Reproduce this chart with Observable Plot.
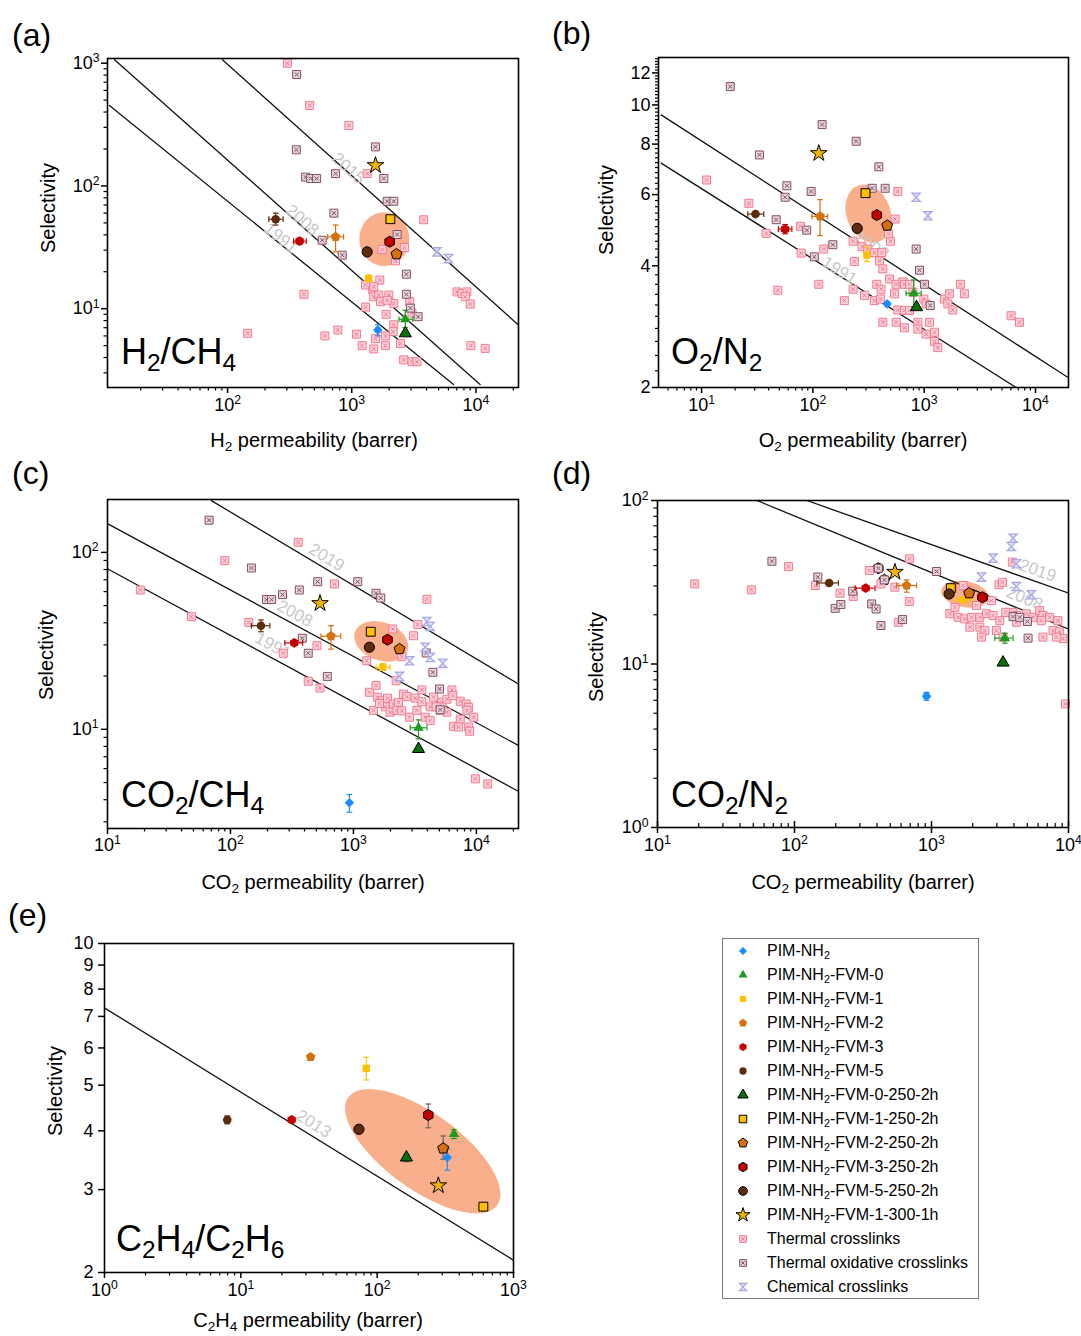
<!DOCTYPE html>
<html><head><meta charset="utf-8">
<script src="https://cdn.jsdelivr.net/npm/d3@7"></script>
<script src="https://cdn.jsdelivr.net/npm/@observablehq/plot@0.6"></script>
<style>
body{margin:0;background:#fff;}
#root{position:relative;width:1081px;height:1336px;overflow:hidden;font-family:"Liberation Sans",Arial,Helvetica,sans-serif;color:#000;background:#fff;}
.abs{position:absolute;white-space:nowrap;line-height:1;}
sub{font-size:0.68em;vertical-align:baseline;position:relative;top:0.3em;line-height:0;}
</style></head><body><div id="root"></div><script>
// ---------------- DATA ----------------
const membranes = ["PIM-NH2","PIM-NH2-FVM-0","PIM-NH2-FVM-1","PIM-NH2-FVM-2","PIM-NH2-FVM-3","PIM-NH2-FVM-5",
  "PIM-NH2-FVM-0-250-2h","PIM-NH2-FVM-1-250-2h","PIM-NH2-FVM-2-250-2h","PIM-NH2-FVM-3-250-2h","PIM-NH2-FVM-5-250-2h","PIM-NH2-FVM-1-300-1h"];
const literature = ["Thermal crosslinks","Thermal oxidative crosslinks","Chemical crosslinks"];

// (a) H2/CH4
const h2ch4P = [1620, 2700, 1370, 741, 380, 244, 2700, 2046, 2290, 2020, 1330, 1552];
const h2ch4S = [6.7, 8.2, 17.6, 38.5, 35.5, 53.6, 6.3, 53.6, 27.8, 35.1, 29.0, 147];
const h2ch4SErr = [[6.0,7.4],[7.0,9.7],[16.6,18.8],[29,48],[33.5,37.5],[48,60],null,null,null,null,null,null];
const h2ch4PErr = [[1560,1690],[2400,3100],[1300,1440],[640,860],[340,430],[215,280],null,null,null,null,null,null];
const h2ch4Thermal = [[303,1000],[458,453],[948,311],[1330,126],[3790,53],[412,13.1],[145,6.3],[608,6.0],[773,6.7],[1092,6.2],[1213,5.0],[1504,4.7],[1866,5.0],[1682,17.1],[1290,15.6],[1477,14.2],[1504,12.5],[1651,12.9],[1703,11.4],[1987,12.9],[2180,11.0],[1928,11.7],[1290,10.3],[1892,9.0],[2180,7.4],[2150,6.5],[1866,6.0],[2466,5.2],[2620,3.83],[3055,3.7],[3350,3.7],[2654,31.5],[2249,24.5],[1755,30.3],[7030,13.7],[7710,13.3],[8450,13.7],[8200,12.5],[9000,10.9],[9100,5.0],[11860,4.75],[2930,11.4],[3055,9.2],[1552,5.7],[1504,15.1]];
const h2ch4Oxid = [[360,809],[358,197],[425,118],[467,115],[521,115],[741,126],[1552,208],[1811,115],[1928,75],[2180,75],[718,60],[2318,40.2],[578,36.1],[838,27.3],[2754,19.1],[2754,13.1],[2966,10.1],[3420,8.6]];
const h2ch4Chem = [[4850,29],[6020,25.6]];
const h2ch4BoundYears = ["1991","2008","2015"];
const h2ch4BoundP = [[11.2,6600],[12.3,10800],[91,22000]];
const h2ch4BoundS = [[453,2.41],[1066,2.41],[1066,7.37]];
const h2ch4BoundLabel = [[268,37.6],[400,52.6],[942,139]];
const h2ch4Blob = [1845, 36.5];
const h2ch4XTicks = [100,1000,10000];
const h2ch4YTicks = [10,100,1000];

// (b) O2/N2
const o2n2P = [465, 807, 305, 116, 56.3, 30.5, 853, 297, 465, 375, 250, 113];
const o2n2S = [3.22, 3.42, 4.25, 5.3, 4.93, 5.37, 3.16, 6.05, 5.03, 5.34, 4.95, 7.59];
const o2n2SErr = [null,[3.17,3.69],[4.1,4.45],[4.75,5.83],[4.8,5.06],null,null,null,null,null,null,null];
const o2n2PErr = [[445,485],[689,940],[290,325],[98,136],[49,64.7],[26,36.2],null,null,null,null,null,null];
const o2n2Thermal = [[11.1,6.52],[26.6,5.71],[38,4.81],[77.4,5.01],[78.5,4.30],[125,4.40],[113,3.60],[192,3.28],[236,4.10],[230,4.6],[277,4.46],[311,4.40],[357,4.31],[416,4.31],[396,4.11],[425,3.93],[498,4.6],[478,4.8],[548,5.22],[579,6.11],[488,3.71],[560,3.60],[643,3.65],[665,3.60],[738,3.60],[375,3.60],[410,3.50],[541,3.41],[291,3.38],[357,3.28],[405,3.31],[230,3.50],[579,3.11],[665,3.10],[738,3.10],[425,2.90],[560,2.90],[665,2.81],[877,2.90],[1117,2.90],[877,2.79],[1042,2.71],[1239,2.74],[1239,2.60],[1326,2.51],[1522,3.31],[1631,3.22],[1808,3.11],[1688,3.41],[2118,3.60],[2300,3.41],[993,3.31],[1042,3.22],[791,3.44],[48.4,3.48],[6040,3.01],[7180,2.90]];
const o2n2Oxid = [[18.1,11.1],[121,8.94],[245,8.13],[33.1,7.52],[391,7.03],[58.3,6.31],[56.3,5.91],[96.4,6.11],[341,6.22],[446,6.22],[46.8,5.2],[88,4.9],[151,4.51],[103,4.21],[847,4.40],[908,3.9],[1006,3.60],[1132,3.19]];
const o2n2Chem = [[847,5.91],[1079,5.32]];
const o2n2BoundYears = ["1991","2008"];
const o2n2BoundP = [[4.33,6700],[4.33,19500]];
const o2n2BoundS = [[7.18,2.0],[9.45,2.12]];
const o2n2BoundLabel = [[173,3.89],[334,4.49]];
const o2n2Blob = [319, 5.37];
const o2n2XTicks = [10,100,1000,10000];
const o2n2YTicks = [2,4,6,8,10,12];

// (c) CO2/CH4
const co2ch4P = [927, 3382, 1733, 657, 330, 177, 3382, 1383, 2370, 1892, 1349, 535];
const co2ch4S = [3.84, 10.2, 22.4, 33.6, 30.8, 38.5, 7.74, 35.6, 28.4, 32.1, 29.1, 51.5];
const co2ch4SErr = [[3.40,4.28],[8.83,11.3],[21.5,23.5],[28.4,38.5],null,[35.6,41.5],null,null,null,null,null,null];
const co2ch4PErr = [null,[2900,3960],[1528,1988],[545,787],[277,386],[148,209],null,null,null,null,null,null];
const co2ch4Thermal = [[18.5,61.3],[89.9,89.8],[48.1,43.3],[356,114],[700,66.3],[141,40.2],[269,26.9],[505,29.7],[429,18.7],[535,17.1],[1283,24.4],[2090,36.9],[3080,33.8],[3340,39.1],[3960,54.3],[2475,25.7],[2226,18.8],[3600,16.7],[1349,16.2],[1528,17.7],[1567,15.2],[1733,14.5],[1892,15.0],[2118,13.9],[2325,14.2],[2555,15.8],[2719,15.3],[3178,15.0],[3600,14.3],[4210,13.4],[4484,15.2],[5240,14.2],[5754,14.8],[6323,16.7],[6443,15.5],[7396,14.4],[8280,13.9],[8650,13.3],[8380,12.8],[9500,11.7],[7396,11.4],[6530,10.4],[7170,10.3],[8650,10.3],[8810,9.75],[1455,12.8],[1811,13.4],[1988,12.5],[2254,12.8],[2475,12.7],[2858,11.7],[3281,12.8],[3837,11.7],[4210,11.2],[4710,13.4],[5080,12.8],[5754,12.5],[1628,14.0],[9800,5.25],[12360,4.91]];
const co2ch4Oxid = [[67,152],[148,81.6],[512,68.3],[363,61.3],[265,57.7],[196,54.1],[216,54.1],[1084,68.3],[1528,58.7],[1667,55.2],[384,32.7],[429,26.9],[613,19.9],[3908,27.0],[4430,21.0],[5020,16.9],[5080,12.9]];
const co2ch4Chem = [[3960,40.6],[4210,38.2],[3837,29.1],[4210,25.5],[2858,24.4],[5330,23.6],[2370,19.9]];
const co2ch4BoundYears = ["1991","2008","2019"];
const co2ch4BoundP = [[10.07,22100],[10.07,22100],[70,22100]];
const co2ch4BoundS = [[80.5,4.45],[145,8.09],[196,18.0]];
const co2ch4BoundLabel = [[221,29.7],[334,45.1],[606,93.7]];
const co2ch4Blob = [1699, 31.2];
const co2ch4XTicks = [10,100,1000,10000];
const co2ch4YTicks = [10,100];

// (d) CO2/N2
const co2n2P = [920, 3426, 1702, 658, 331, 179, 3330, 1384, 1883, 2356, 1345, 541];
const co2n2S = [6.36, 14.4, 24.7, 30.2, 29.1, 31.3, 10.2, 29.1, 27.1, 25.6, 26.8, 36.5];
const co2n2SErr = [[6.0,6.7],[13.4,15.4],null,[27.5,32.7],null,null,null,null,null,null,null,null];
const co2n2PErr = [[880,960],[2900,3939],[1500,1950],[557,778],[277,387],[146,209],null,null,null,null,null,null];
const co2n2ExtraName = ["PIM-NH2-FVM-3-250-2h","PIM-NH2-FVM-2-250-2h"];
const co2n2ExtraP = [409, 453];
const co2n2ExtraS = [38.5, 32.7];
const co2n2Thermal = [[18.7,30.9],[48.4,28.4],[90.5,39.4],[142,30.2],[215,27.1],[269,25.9],[352,37.3],[428,30.9],[541,29.5],[689,44.0],[689,24.1],[573,18.0],[1423,29.1],[1850,28.1],[1702,30.2],[3112,30.5],[3296,31.6],[3890,42.0],[1361,20.3],[1566,19.3],[1751,18.9],[1959,19.3],[2253,19.3],[2518,20.3],[2817,19.8],[1905,16.8],[2253,16.8],[2451,16.0],[2978,16.0],[3149,18.4],[3622,20.7],[3939,20.7],[4165,18.0],[4923,20.3],[5508,19.3],[6159,21.2],[6511,19.8],[7280,19.3],[8370,18.4],[7710,16.0],[8610,15.7],[9100,14.3],[8150,14.6],[6511,14.6],[2317,14.6],[3330,14.6],[9520,5.7],[1483,22.2],[2130,22.8],[2737,24.4],[3480,20.7],[4165,19.8],[6340,18.4]];
const co2n2Oxid = [[68.4,42.5],[148,34.0],[198,21.9],[218,23.1],[266,27.9],[366,23.3],[394,21.7],[428,17.2],[615,18.7],[1089,36.8],[3939,19.5],[4405,19.3],[5012,18.2],[5070,14.4],[409,38.5],[453,32.7]];
const co2n2Chem = [[3939,58.8],[3826,52.3],[2817,44.4],[2317,34.0],[4165,41.0],[4165,29.8],[5358,26.5]];
const co2n2BoundYears = ["2008","2019"];
const co2n2BoundP = [[53.2,10000],[123,10000]];
const co2n2BoundS = [[100,16.35],[100,27.15]];
const co2n2BoundLabel = [[4786,25.2],[5957,37.3]];
const co2n2Blob = [1771, 26.5];
const co2n2XTicks = [10,100,1000,10000];
const co2n2YTicks = [1,10,100];

// (e) C2H4/C2H6
const c2h4P = [327, 366, 83.2, 32.5, 23.6, 7.95, 164, 601, 305, 237, 73.5, 281];
const c2h4S = [3.51, 3.94, 5.43, 5.74, 4.22, 4.22, 3.51, 2.76, 3.67, 4.32, 4.03, 3.06];
const c2h4SErr = [[3.30,3.66],[3.85,4.02],[5.13,5.73],null,null,[4.14,4.30],[3.44,3.57],null,[3.48,3.90],[4.06,4.56],null,null];
const c2h4PErr = [null,null,null,null,null,null,null,null,null,null,null,null];
const c2h4BoundYears = ["2013"];
const c2h4BoundP = [[0.99,1009]];
const c2h4BoundS = [[7.31,2.12]];
const c2h4BoundLabel = [[34.2,4.14]];
const c2h4Blob = [218, 3.61];
const c2h4XTicks = [1,10,100,1000];
const c2h4YTicks = [2,3,4,5,6,7,8,9,10];

// ---------------- STYLE ----------------
const NS = "http://www.w3.org/2000/svg";
const FONT = "'Liberation Sans', Arial, Helvetica, sans-serif";
const root = document.getElementById("root");

function poly(n, area, start){
  return {draw(c, s){
    const R = Math.sqrt(s / area);
    for (let k=0;k<n;k++){ const a=start+k*2*Math.PI/n; const x=R*Math.cos(a), y=R*Math.sin(a); if(k) c.lineTo(x,y); else c.moveTo(x,y);} c.closePath();
  }};
}
const pentagon = poly(5, 2.378, -Math.PI/2);
const hexagon = poly(6, 2.598, -Math.PI/2);
const checkSq = {draw(c, s){ const h=Math.sqrt(s)/2; c.moveTo(-h,-h); c.lineTo(h,-h); c.lineTo(h,h); c.lineTo(-h,h); c.closePath();
  const g=h*0.5; c.moveTo(-g,-g); c.lineTo(g,g); c.moveTo(g,-g); c.lineTo(-g,g); }};
const hourglass = {draw(c, s){ const h=Math.sqrt(s)/2; c.moveTo(-h,-h); c.lineTo(h,-h); c.lineTo(-h,h); c.lineTo(h,h); c.closePath(); }};
const hcap = {draw(c, s){ const w=Math.sqrt(s)/2; c.moveTo(-w,0); c.lineTo(w,0); }};
const vcap = {draw(c, s){ const w=Math.sqrt(s)/2; c.moveTo(0,-w); c.lineTo(0,w); }};

const mStyle = [
 {symbol:"diamond2", r:4.3, fill:"#1a8cff", stroke:"none", err:"#1a8cff"},
 {symbol:"triangle", r:3.9, fill:"#1f9a1f", stroke:"none", err:"#1f9a1f"},
 {symbol:"square", r:4.1, fill:"#ffc000", stroke:"none", err:"#ffc000"},
 {symbol:pentagon, r:4.4, fill:"#d4700f", stroke:"none", err:"#d4700f"},
 {symbol:hexagon, r:4.4, fill:"#c40000", stroke:"none", err:"#c40000"},
 {symbol:"circle", r:4.3, fill:"#5c2c0c", stroke:"none", err:"#5c2c0c"},
 {symbol:"triangle", r:4.5, fill:"#0c6e0c", stroke:"black", err:"#666"},
 {symbol:"square", r:5.0, fill:"#ffc000", stroke:"black", err:"#666"},
 {symbol:pentagon, r:5.0, fill:"#d4700f", stroke:"black", err:"#666"},
 {symbol:hexagon, r:5.0, fill:"#c40000", stroke:"black", err:"#666"},
 {symbol:"circle", r:5.1, fill:"#5c2c0c", stroke:"black", err:"#666"},
 {symbol:"star", r:5.2, fill:"#f2b400", stroke:"black", err:"#666"}
];
const litStyle = [
 {symbol:checkSq, r:4.5, fill:"#fcd0d8", stroke:"#f27a90", strokeWidth:1},
 {symbol:checkSq, r:4.5, fill:"#e6d4da", stroke:"#835063", strokeWidth:1},
 {symbol:hourglass, r:4.7, fill:"#e4e4f8", stroke:"#a9a9e4", strokeWidth:1.3}
];
const BLOB = "#f8a881";

function logMinor(lo, hi){ const out=[]; for(let e=Math.floor(Math.log10(lo))-1; e<=Math.ceil(Math.log10(hi)); e++) for(let k=2;k<=9;k++){ const v=+(k*Math.pow(10,e)).toPrecision(6); if(v>lo && v<hi) out.push(v);} return out; }
const pow10 = d => "10^" + Math.round(Math.log10(d));

function ellipseMark(center, shape){
  return (index, scales) => {
    const X = scales.x(center[0]), Y = scales.y(center[1]);
    const e = document.createElementNS(NS, "ellipse");
    e.setAttribute("cx", X); e.setAttribute("cy", Y);
    e.setAttribute("rx", shape.rx); e.setAttribute("ry", shape.ry);
    e.setAttribute("transform", `rotate(${shape.rot},${X},${Y})`);
    e.setAttribute("fill", BLOB); e.setAttribute("fill-opacity", 0.92);
    return e;
  };
}

function buildPanel(cfg){
  const {l,t,r,b} = cfg.frame;
  const W = r-l, H = b-t;
  const mL=80, mR=20, mT=14, mB=50;
  const rows = membranes.map((m,i)=>({m, i, P: cfg.P[i], S: cfg.S[i], sErr: cfg.sErr[i], pErr: cfg.pErr[i]}));
  const marks = [];
  marks.push(ellipseMark(cfg.blob, cfg.blobShape));
  const boundRows = cfg.years.flatMap((y,k)=> cfg.boundP[k].map((p,j)=>({year:y, P:p, S:cfg.boundS[k][j]})));
  marks.push(Plot.line(boundRows, {x:"P", y:"S", z:"year", stroke:"#111", strokeWidth:1.3, clip:true}));
  marks.push(Plot.text(cfg.years, {x:(d,i)=>cfg.boundLabel[i][0], y:(d,i)=>cfg.boundLabel[i][1], text:d=>d, rotate:(d,i)=>cfg.labelRot[i], fill:"#c8c8c8", fontSize:17}));
  if (cfg.extra){
    cfg.extra.names.forEach((n,k)=>{ const st = mStyle[membranes.indexOf(n)];
      marks.push(Plot.dot([k], {x:()=>cfg.extra.P[k], y:()=>cfg.extra.S[k], symbol:st.symbol, r:st.r, fill:st.fill, stroke:st.stroke, strokeWidth:1}));});
  }
  [cfg.tc, cfg.to, cfg.ch].forEach((arr,k)=>{ if(arr) marks.push(Plot.dot(arr, {x:d=>d[0], y:d=>d[1], ...litStyle[k]})); });
  rows.forEach((row)=>{
    const st = mStyle[row.i];
    if (row.sErr){
      marks.push(Plot.ruleX([row], {x:"P", y1:d=>d.sErr[0], y2:d=>d.sErr[1], stroke:st.err, strokeWidth:1.2}));
      marks.push(Plot.dot(row.sErr, {x:()=>row.P, y:d=>d, symbol:hcap, r:3.2, fill:"none", stroke:st.err, strokeWidth:1.2}));
    }
    if (row.pErr){
      marks.push(Plot.ruleY([row], {y:"S", x1:d=>d.pErr[0], x2:d=>d.pErr[1], stroke:st.err, strokeWidth:1.2}));
      marks.push(Plot.dot(row.pErr, {x:d=>d, y:()=>row.S, symbol:vcap, r:3.2, fill:"none", stroke:st.err, strokeWidth:1.2}));
    }
  });
  rows.forEach((row)=>{ const st = mStyle[row.i];
    marks.push(Plot.dot([row], {x:"P", y:"S", symbol:st.symbol, r:st.r, fill:st.fill, stroke:st.stroke, strokeWidth:1}));
  });
  marks.push(Plot.frame({stroke:"black", strokeWidth:1.6}));
  const ax = cfg.ticks;
  marks.push(Plot.tickX(cfg.xMajor, {x:d=>d, insetTop:H-ax.xMajIn, insetBottom:-ax.xMajOut, stroke:"black", strokeWidth:1.5}));
  if (cfg.xMinor.length) marks.push(Plot.tickX(cfg.xMinor, {x:d=>d, insetTop:H-ax.xMinIn, insetBottom:-ax.xMinOut, stroke:"black", strokeWidth:1.2}));
  marks.push(Plot.tickY(cfg.yMajor, {y:d=>d, insetLeft:-ax.yMajOut, insetRight:W-ax.yMajIn, stroke:"black", strokeWidth:1.5}));
  if (cfg.yMinor.length) marks.push(Plot.tickY(cfg.yMinor, {y:d=>d, insetLeft:-ax.yMinOut, insetRight:W-ax.yMinIn, stroke:"black", strokeWidth:1.2}));
  marks.push(Plot.text(cfg.xMajor, {x:d=>d, frameAnchor:"bottom", dy:cfg.xLabelDy, text:cfg.xFmt, fontSize:18, fill:"black"}));
  marks.push(Plot.text(cfg.yMajor, {y:d=>d, frameAnchor:"left", dx:-cfg.yLabelPad, textAnchor:"end", text:cfg.yFmt, fontSize:18, fill:"black"}));
  const svg = Plot.plot({
    width:W+mL+mR, height:H+mT+mB, marginLeft:mL, marginRight:mR, marginTop:mT, marginBottom:mB,
    x:{type:"log", domain:cfg.xDomain, axis:null},
    y:{type:"log", domain:cfg.yDomain, axis:null},
    style:{fontFamily:FONT, fontSize:"18px", color:"black", background:"transparent", overflow:"visible"},
    marks
  });
  svg.style.position="absolute"; svg.style.left=(l-mL)+"px"; svg.style.top=(t-mT)+"px"; svg.style.maxWidth="none";
  svg.querySelectorAll("text").forEach(tx=>{
    const m = /^10\^(-?\d+)$/.exec(tx.textContent);
    if (m){ tx.textContent="10"; const ts=document.createElementNS(NS,"tspan"); ts.setAttribute("dy","-0.55em"); ts.setAttribute("font-size","0.68em"); ts.textContent=m[1]; tx.appendChild(ts); }
  });
  root.appendChild(svg);
}

const outTicks = {xMajOut:6, xMajIn:0, xMinOut:3.5, xMinIn:0, yMajOut:6, yMajIn:0, yMinOut:3.5, yMinIn:0};

buildPanel({frame:{l:107,t:58,r:518,b:387}, xDomain:[10.8,22000], yDomain:[2.28,1092],
  P:h2ch4P, S:h2ch4S, sErr:h2ch4SErr, pErr:h2ch4PErr, tc:h2ch4Thermal, to:h2ch4Oxid, ch:h2ch4Chem,
  years:h2ch4BoundYears, boundP:h2ch4BoundP, boundS:h2ch4BoundS, boundLabel:h2ch4BoundLabel, labelRot:[39,41.6,41.8],
  blob:h2ch4Blob, blobShape:{rx:25, ry:27, rot:0},
  xMajor:h2ch4XTicks, xMinor:logMinor(10.8,22000), yMajor:h2ch4YTicks, yMinor:logMinor(2.28,1092),
  xFmt:pow10, yFmt:pow10, xLabelDy:23, yLabelPad:8, ticks:outTicks});

buildPanel({frame:{l:658,t:57,r:1068,b:387}, xDomain:[4.1,19800], yDomain:[2,13.1],
  P:o2n2P, S:o2n2S, sErr:o2n2SErr, pErr:o2n2PErr, tc:o2n2Thermal, to:o2n2Oxid, ch:o2n2Chem,
  years:o2n2BoundYears, boundP:o2n2BoundP, boundS:o2n2BoundS, boundLabel:o2n2BoundLabel, labelRot:[32,33],
  blob:o2n2Blob, blobShape:{rx:22, ry:30, rot:-20},
  xMajor:o2n2XTicks, xMinor:logMinor(4.1,19800), yMajor:o2n2YTicks,
  yMinor:d3.range(11,66).map(k=>k/5).filter(v=>v<13.1 && Math.abs(v/2-Math.round(v/2))>1e-6),
  xFmt:pow10, yFmt:d=>String(d), xLabelDy:23, yLabelPad:8, ticks:{...outTicks, yMinOut:3}});

buildPanel({frame:{l:107,t:499,r:518,b:828}, xDomain:[10,22000], yDomain:[2.75,199],
  P:co2ch4P, S:co2ch4S, sErr:co2ch4SErr, pErr:co2ch4PErr, tc:co2ch4Thermal, to:co2ch4Oxid, ch:co2ch4Chem,
  years:co2ch4BoundYears, boundP:co2ch4BoundP, boundS:co2ch4BoundS, boundLabel:co2ch4BoundLabel, labelRot:[28.5,28.4,30.9],
  blob:co2ch4Blob, blobShape:{rx:28, ry:19, rot:20},
  xMajor:co2ch4XTicks, xMinor:logMinor(10,22000), yMajor:co2ch4YTicks, yMinor:logMinor(2.75,199),
  xFmt:pow10, yFmt:pow10, xLabelDy:22, yLabelPad:9, ticks:outTicks});

buildPanel({frame:{l:657,t:500,r:1068,b:827}, xDomain:[10,10000], yDomain:[1,100],
  P:co2n2P, S:co2n2S, sErr:co2n2SErr, pErr:co2n2PErr, tc:co2n2Thermal, to:co2n2Oxid, ch:co2n2Chem,
  extra:{names:co2n2ExtraName, P:co2n2ExtraP, S:co2n2ExtraS},
  years:co2n2BoundYears, boundP:co2n2BoundP, boundS:co2n2BoundS, boundLabel:co2n2BoundLabel, labelRot:[22.4,19.4],
  blob:co2n2Blob, blobShape:{rx:24, ry:13, rot:10},
  xMajor:co2n2XTicks, xMinor:logMinor(10,10000), yMajor:co2n2YTicks, yMinor:logMinor(1,100),
  xFmt:pow10, yFmt:pow10, xLabelDy:23, yLabelPad:9, ticks:{...outTicks, xMajIn:6, xMinOut:0, xMinIn:4}});

buildPanel({frame:{l:104,t:943,r:513,b:1272}, xDomain:[1,1000], yDomain:[2,10],
  P:c2h4P, S:c2h4S, sErr:c2h4SErr, pErr:c2h4PErr, tc:null, to:null, ch:null,
  years:c2h4BoundYears, boundP:c2h4BoundP, boundS:c2h4BoundS, boundLabel:c2h4BoundLabel, labelRot:[31.7],
  blob:c2h4Blob, blobShape:{rx:92, ry:38, rot:36},
  xMajor:c2h4XTicks, xMinor:logMinor(1,1000), yMajor:c2h4YTicks, yMinor:[],
  xFmt:pow10, yFmt:d=>String(d), xLabelDy:23, yLabelPad:11, ticks:outTicks});

// ---------------- TEXT OVERLAYS ----------------
function put(html, x, y, size, mode){
  const d = document.createElement("div"); d.className="abs"; d.innerHTML=html; d.style.fontSize=size+"px";
  d.style.left=x+"px";
  if (mode==="base"){ d.style.top=(y-0.8465*size)+"px"; }
  else if (mode==="center"){ d.style.top=y+"px"; d.style.transform="translate(-50%,-50%)"; }
  else if (mode==="vert"){ d.style.top=y+"px"; d.style.transform="translate(-50%,-50%) rotate(-90deg)"; }
  else if (mode==="cl"){ d.style.top=y+"px"; d.style.transform="translateY(-50%)"; }
  root.appendChild(d);
}
put("(a)", 12, 35, 32, "cl"); put("(b)", 552, 33, 32, "cl");
put("(c)", 12, 473, 32, "cl"); put("(d)", 552, 473, 32, "cl"); put("(e)", 8, 915, 32, "cl");
put("H<sub>2</sub>/CH<sub>4</sub>", 121, 364, 36, "base");
put("O<sub>2</sub>/N<sub>2</sub>", 671, 364, 36, "base");
put("CO<sub>2</sub>/CH<sub>4</sub>", 121, 807, 36, "base");
put("CO<sub>2</sub>/N<sub>2</sub>", 671, 807, 36, "base");
put("C<sub>2</sub>H<sub>4</sub>/C<sub>2</sub>H<sub>6</sub>", 116, 1251, 36, "base");
put("H<sub>2</sub> permeability (barrer)", 314, 440, 20, "center");
put("O<sub>2</sub> permeability (barrer)", 863, 440, 20, "center");
put("CO<sub>2</sub> permeability (barrer)", 313, 882, 20, "center");
put("CO<sub>2</sub> permeability (barrer)", 863, 882, 20, "center");
put("C<sub>2</sub>H<sub>4</sub> permeability (barrer)", 308, 1320, 20, "center");
put("Selectivity", 48, 208, 20, "vert");
put("Selectivity", 606, 210, 20, "vert");
put("Selectivity", 46, 655, 20, "vert");
put("Selectivity", 596, 657, 20, "vert");
put("Selectivity", 55, 1091, 20, "vert");

// ---------------- LEGEND ----------------
const leg = document.createElement("div");
leg.style.cssText = "position:absolute;left:722px;top:938px;width:257px;height:361px;border:1px solid #7a7a7a;box-sizing:border-box;";
root.appendChild(leg);
const legendNames = membranes.concat(literature);
const legendStyles = mStyle.concat(litStyle);
legendNames.forEach((name,k)=>{
  const cy = 951 + k*24;
  const st = legendStyles[k];
  const sym = typeof st.symbol === "string" ? {diamond2:d3.symbolDiamond2, triangle:d3.symbolTriangle, square:d3.symbolSquare, circle:d3.symbolCircle, star:d3.symbolStar}[st.symbol] : st.symbol;
  const r = st.r*0.85;
  const p = d3.symbol().type(sym).size(Math.PI*r*r)();
  const s = document.createElementNS(NS,"svg");
  s.setAttribute("width",20); s.setAttribute("height",20);
  s.style.cssText = `position:absolute;left:${743-10}px;top:${cy-10}px;overflow:visible`;
  const path = document.createElementNS(NS,"path");
  path.setAttribute("d", p); path.setAttribute("transform","translate(10,10)");
  path.setAttribute("fill", st.fill); path.setAttribute("stroke", st.stroke); path.setAttribute("stroke-width", st.strokeWidth||1);
  s.appendChild(path); root.appendChild(s);
  put(name.replace("NH2","NH<sub>2</sub>"), 767, cy, 16, "cl");
});
</script></body></html>
